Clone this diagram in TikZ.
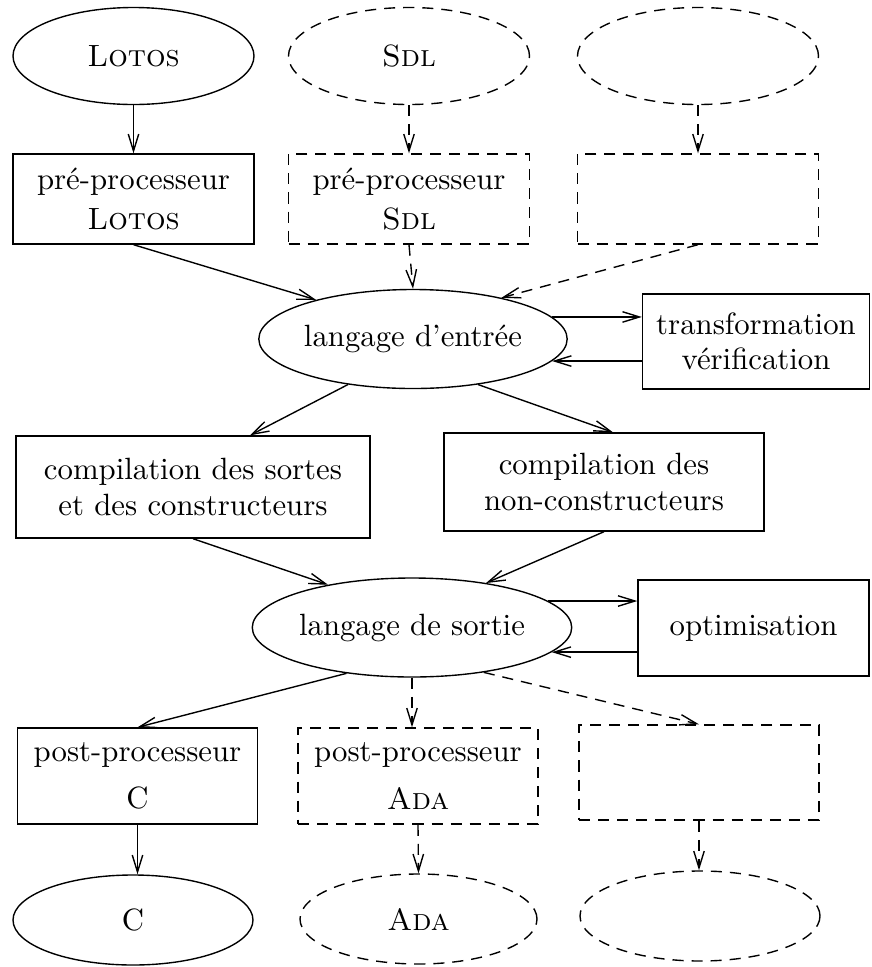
\documentclass[tikz,border=0pt]{standalone}
\usetikzlibrary{shapes.geometric,arrows.meta,calc}
\begin{document}
\begin{tikzpicture}[x=0.325pt,y=-0.325pt,
  line width=0.45pt,
  >={Straight Barb[length=5.5pt,width=3.4pt]},
  every node/.style={inner sep=0pt,align=center,font=\fontsize{10}{11.5}\selectfont},
  oval/.style n args={2}{draw,ellipse,minimum width=#1*0.325pt,minimum height=#2*0.325pt},
  rbox/.style n args={2}{draw,rectangle,minimum width=#1*0.325pt,minimum height=#2*0.325pt},
  opt/.style={dash pattern=on 3.6pt off 2.6pt}]
\useasboundingbox (0,0) rectangle (872,967);

% input languages
\node[oval={241}{97}] (lotos) at (133.5,56) {\textsc{Lotos}};
\node[oval={241}{97},opt] (sdl) at (409,56) {\textsc{Sdl}};
\node[oval={241}{97},opt] (in3) at (698,56) {};

% pre-processors
\node[rbox={241}{90}] (plotos) at (133.5,199) {pré-processeur\\[1.5pt]\textsc{Lotos}};
\node[rbox={241}{90},opt] (psdl) at (409,199) {pré-processeur\\[1.5pt]\textsc{Sdl}};
\node[rbox={241}{90},opt] (p3) at (698,199) {};

% input language and its transformations
\node[oval={270}{99}] (entree) at (413,339) {langage d'entrée};
\node[rbox={227}{95}] (tv) at (756,341.5) {transformation\\vérification};

% compilation steps
\node[rbox={354}{102}] (csc) at (193,487) {compilation des sortes\\et des constructeurs};
\node[rbox={320}{98}] (cnc) at (604,482) {compilation des\\non-constructeurs};

% output language and optimisation
\node[oval={258}{99}] (sortie) at (412,627.5) {langage de sortie};
\node[rbox={231}{96}] (optim) at (753.5,628) {optimisation};

% post-processors
\node[rbox={240}{96}] (pc) at (137.5,776) {post-processeur\\[4pt]C};
\node[rbox={240}{96},opt] (pada) at (418,776) {post-processeur\\[4pt]\textsc{Ada}};
\node[rbox={240}{95},opt] (q3) at (699,772.5) {};

% target languages
\node[oval={240}{90}] (oc) at (133,920) {C};
\node[oval={237}{90},opt] (oada) at (418.5,919) {\textsc{Ada}};
\node[oval={240}{90},opt] (o3) at (700,916) {};

% connectors
\draw[->] (lotos.south) -- (plotos.north);
\draw[->,opt] (sdl.south) -- (psdl.north);
\draw[->,opt] (in3.south) -- (p3.north);

\draw[->] (plotos.south) -- (entree.158);
\draw[->,opt] (psdl.south) -- (entree.north);
\draw[->,opt] (p3.south) -- (entree.25);

\draw[->] (entree.9) -- (entree.9 -| tv.west);
\draw[->] (entree.-9 -| tv.west) -- (entree.-9);

\draw[->] (entree.215) -- ($(csc.north)+(57,0)$);
\draw[->] (entree.-35) -- ($(cnc.north)+(9,0)$);

\draw[->] (csc.south) -- (sortie.153);
\draw[->] (cnc.south) -- (sortie.31);

\draw[->] (sortie.11) -- (sortie.11 -| optim.west);
\draw[->] (sortie.-10 -| optim.west) -- (sortie.-10);

\draw[->] (sortie.215) -- (pc.north);
\draw[->,opt] (sortie.south) -- (sortie.south |- pada.north);
\draw[->,opt] (sortie.-32) -- (q3.north);

\draw[->] (pc.south) -- (pc.south |- oc.north);
\draw[->,opt] (pada.south) -- (oada.north);
\draw[->,opt] (q3.south) -- (q3.south |- o3.north);
\end{tikzpicture}
\end{document}
